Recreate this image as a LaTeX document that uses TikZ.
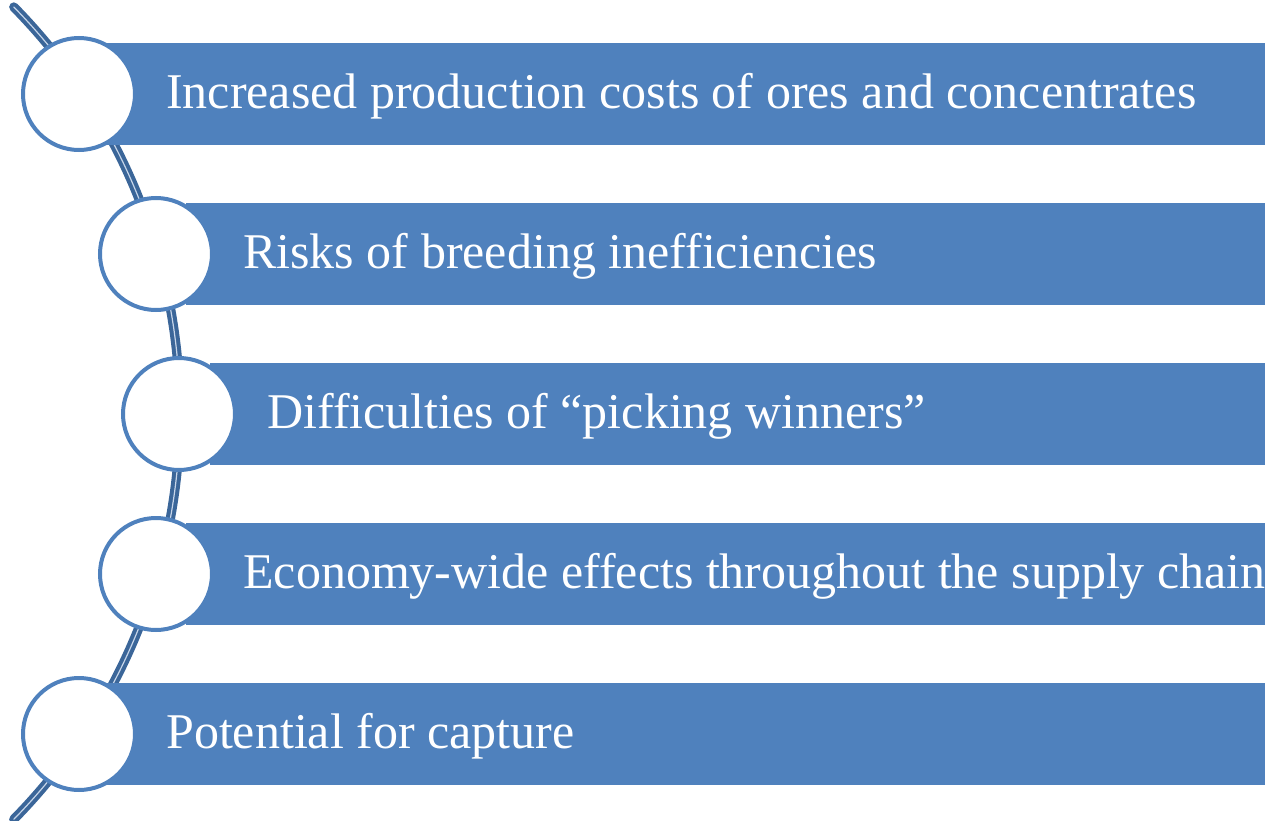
\documentclass[tikz,border=0pt]{standalone}
\usepackage{fontspec}
\setmainfont{Liberation Serif}
\definecolor{barblue}{HTML}{4F81BD}
\definecolor{arcdark}{HTML}{3B6699}
\definecolor{arclight}{HTML}{C6D5E9}
\tikzset{
  barbox/.style={fill=barblue, draw=none, inner sep=0pt, minimum height=76.5pt, anchor=west},
  ringbox/.style={circle, draw=barblue, fill=white, line width=3pt, minimum size=84pt, inner sep=0pt},
  bartext/.style={text=white, anchor=base west, inner sep=0pt, font=\fontsize{37.5pt}{45pt}\selectfont},
  arcouter/.style={draw=arcdark, line width=7pt, line cap=round},
  arcinner/.style={draw=arclight, line width=0.9pt, line cap=round}
}
\begin{document}
\begin{tikzpicture}[x=0.75pt,y=-0.75pt]
\useasboundingbox (0,0) rectangle (1265,821);
% curved spine
\coordinate (arcTop) at (13.8,7);
\path[arcouter] (arcTop) arc[start angle=-44.5, end angle=44.5, radius=579.5];
\path[arcinner] (arcTop) arc[start angle=-44.5, end angle=44.5, radius=579.5];
% bars
\node[barbox, minimum width=868.5pt] (b1) at (107,94) {};
\node[barbox, minimum width=809.25pt] (b2) at (186,254) {};
\node[barbox, minimum width=791.25pt] (b3) at (210,414) {};
\node[barbox, minimum width=809.25pt] (b4) at (186,574) {};
\node[barbox, minimum width=868.5pt] (b5) at (107,734) {};
% circles
\node[ringbox] (c1) at (79,94) {};
\node[ringbox] (c2) at (156,254) {};
\node[ringbox] (c3) at (179,414) {};
\node[ringbox] (c4) at (156,574) {};
\node[ringbox] (c5) at (79,734) {};
% texts
\node[bartext] (t1) at (166,108) {Increased production costs of ores and concentrates};
\node[bartext] (t2) at (243,268) {Risks of breeding inefficiencies};
\node[bartext] (t3) at (267,428) {Difficulties of “picking winners”};
\node[bartext] (t4) at (243,588) {Economy-wide effects throughout the supply chain};
\node[bartext] (t5) at (166,748) {Potential for capture};
\end{tikzpicture}
\end{document}
